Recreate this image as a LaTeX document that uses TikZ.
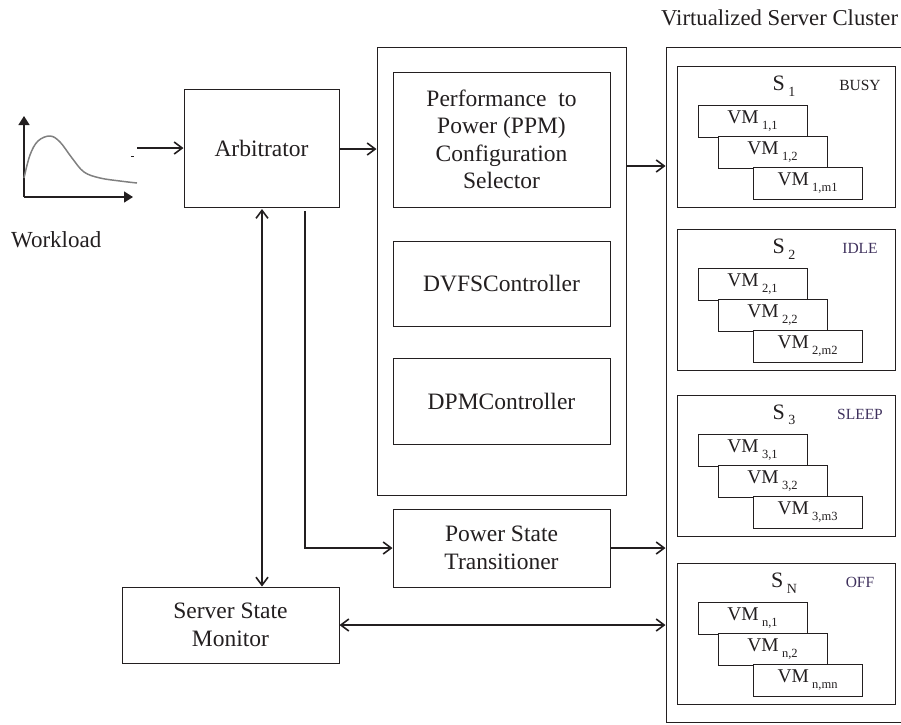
\documentclass[tikz,border=0pt]{standalone}
\usepackage{fontspec}
\setmainfont{Liberation Serif}
\usetikzlibrary{arrows.meta}
\definecolor{ink}{RGB}{35,31,32}
\definecolor{stcol}{RGB}{62,48,92}
\newcommand\vsub[1]{\raisebox{-0.3em}{\fontsize{12.5}{12.5}\selectfont #1}}
\newcommand\ssub[1]{\raisebox{-0.25em}{\fontsize{14}{14}\selectfont #1}}
\tikzset{
  box/.style={draw=ink, line width=1pt, fill=white, inner sep=0pt, align=center,
    text=ink, font=\fontsize{23.5}{27.5}\selectfont},
  srv/.style={draw=ink, line width=1pt, inner sep=0pt, minimum width=218pt, minimum height=141pt},
  vm/.style={draw=ink, line width=1pt, fill=white, inner sep=0pt, minimum width=109pt,
    minimum height=32pt, text=ink, font=\fontsize{19.5}{19.5}\selectfont},
  slab/.style={inner sep=0pt, text=ink, font=\fontsize{22}{22}\selectfont},
  stlab/.style={inner sep=0pt, font=\fontsize{15.5}{15.5}\selectfont},
  lbl/.style={inner sep=0pt, text=ink, font=\fontsize{23}{27.5}\selectfont},
  arr/.style={draw=ink, line width=1.8pt, -{Straight Barb[length=8pt,width=12pt,line width=1.6pt]}},
  darr/.style={draw=ink, line width=1.8pt, {Straight Barb[length=8pt,width=12pt,line width=1.6pt]}-{Straight Barb[length=8pt,width=12pt,line width=1.6pt]}},
  axis/.style={draw=ink, line width=1.5pt, -{Triangle[length=9pt,width=11pt]}},
}
\newcommand\server[8]{%
  \node[srv] (#2) at (786,#1+70.5) {};
  \node[slab] (#2lab) at (784,#1+20) {S\,\ssub{#3}};
  \node[stlab, text=#8] (#2st) at (860,#1+19) {#4};
  \node[vm] (#2a) at (752.5,#1+55) {VM\,\vsub{#5}};
  \node[vm] (#2b) at (772.5,#1+86) {VM\,\vsub{#6}};
  \node[vm] (#2c) at (807.5,#1+117) {VM\,\vsub{#7}};
}
\begin{document}
\begin{tikzpicture}[x=1pt,y=-1pt]
\useasboundingbox (0,0) rectangle (901,724);
% workload graph
\draw[axis] (24,197) -- (24,116);
\draw[axis] (24,197) -- (133,197);
\draw[gray, line width=1.5pt] plot[smooth, tension=0.6] coordinates
  {(24,178) (30,155) (38,141) (50,136) (60,142) (72,158) (84,172) (100,178) (120,181) (137,183)};
\draw[ink, line width=1pt] (131,156) -- (134,156);
\coordinate (wl) at (137,148);
\node[lbl, anchor=west] (workload) at (11,240) {Workload};
% blocks
\node[box, minimum width=155pt, minimum height=118pt] (arb) at (261.5,148) {Arbitrator};
\node[box, minimum width=249pt, minimum height=448pt] (big) at (501.5,271) {};
\node[box, minimum width=217pt, minimum height=135pt] (ppm) at (501.5,139.5)
  {Performance\ \ to\\Power (PPM)\\Configuration\\Selector};
\node[box, minimum width=217pt, minimum height=85pt] (dvfs) at (501.5,283.5) {DVFSController};
\node[box, minimum width=217pt, minimum height=86pt] (dpm) at (501.5,401) {DPMController};
\node[box, minimum width=217pt, minimum height=78pt] (pst) at (501.5,548) {Power State\\Transitioner};
\node[box, minimum width=217pt, minimum height=76pt] (ssm) at (230.5,625) {Server State\\Monitor};
% cluster
\node[lbl, anchor=west, font=\fontsize{22.7}{23}\selectfont] (vsc) at (661,18) {Virtualized Server Cluster};
\node[draw=ink, line width=1pt, inner sep=0pt, minimum width=238pt, minimum height=675pt] (cluster) at (785,384.5) {};
\server{66}{s1}{1}{BUSY}{1,1}{1,2}{1,m1}{ink}
\server{229}{s2}{2}{IDLE}{2,1}{2,2}{2,m2}{stcol}
\server{395}{s3}{3}{SLEEP}{3,1}{3,2}{3,m3}{stcol}
\server{563}{s4}{N}{OFF}{n,1}{n,2}{n,mn}{stcol}
% connectors
\draw[arr] (wl) -- (arb.west |- wl);
\draw[arr] (arb.east |- 0,149) -- (big.west |- 0,149);
\draw[arr] (big.east |- 0,166) -- (cluster.west |- 0,166);
\coordinate (a1) at (262,209);
\draw[darr] (a1) -- (ssm.north -| a1);
\coordinate (a2) at (305,211);
\draw[arr] (a2) |- (pst.west);
\draw[arr] (pst.east) -- (cluster.west |- pst.east);
\draw[darr] (ssm.east) -- (cluster.west |- ssm.east);
\end{tikzpicture}
\end{document}
